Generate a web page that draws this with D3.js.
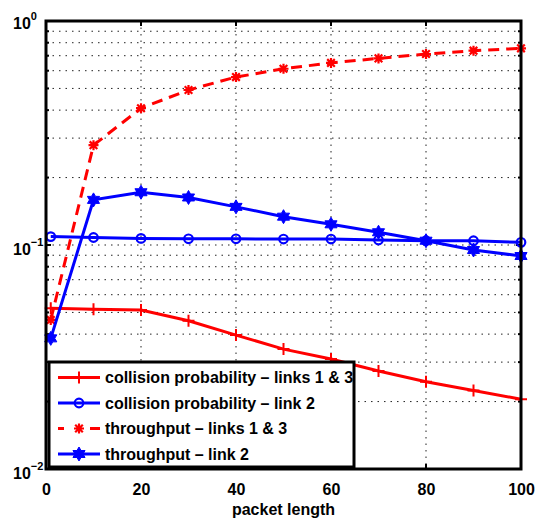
<!DOCTYPE html>
<html>
<head>
<meta charset="utf-8">
<script src="https://cdn.jsdelivr.net/npm/d3@7"></script>
<style>
  html, body { margin: 0; padding: 0; background: #fff; }
  svg { display: block; font-family: "Liberation Sans", Arial, Helvetica, sans-serif; font-weight: bold; }
</style>
</head>
<body>
<svg id="chart" width="535" height="524"></svg>
<script>
// ---------- data ----------
const packetLength = [1, 10, 20, 30, 40, 50, 60, 70, 80, 90, 100];
const collisionLinks13 = [0.0522, 0.0516, 0.0513, 0.0459, 0.0396, 0.0343, 0.0310, 0.0274, 0.0245, 0.0224, 0.0205];
const collisionLink2   = [0.109, 0.108, 0.107, 0.1066, 0.1066, 0.1063, 0.1063, 0.1053, 0.1045, 0.1045, 0.1028];
const throughputLinks13 = [0.0463, 0.279, 0.408, 0.492, 0.562, 0.612, 0.650, 0.681, 0.712, 0.737, 0.755];
const throughputLink2   = [0.0383, 0.159, 0.172, 0.163, 0.148, 0.1338, 0.1237, 0.114, 0.1045, 0.095, 0.0893];
const xTickValues = [0, 20, 40, 60, 80, 100];
const yTickValues = [0.01, 0.1, 1];
const yTickExponents = ["\u22122", "\u22121", "0"];
const xLabel = "packet length";
const seriesNames = [
  "collision probability \u2013 links 1 & 3",
  "collision probability \u2013 link 2",
  "throughput \u2013 links 1 & 3",
  "throughput \u2013 link 2"
];

// ---------- layout ----------
const svg = d3.select("#chart");
const L = 46, R = 521, T = 21, B = 469;
const x = d3.scaleLinear().domain([0, 100]).range([L, R]);
const y = d3.scaleLog().domain([0.01, 1]).range([B, T]);

svg.append("rect").attr("width", 535).attr("height", 524).attr("fill", "#fff");

// ---------- grid ----------
const minorY = [];
[0.01, 0.1].forEach(d => { for (let k = 1; k <= 9; k++) minorY.push(k * d); });
const grid = svg.append("g").attr("stroke", "#222").attr("stroke-width", 1).attr("stroke-dasharray", "1.5,5");
grid.selectAll("line.h").data(minorY.filter(v => v > 0.01)).enter().append("line")
  .attr("x1", L).attr("x2", R).attr("y1", d => y(d)).attr("y2", d => y(d));
grid.selectAll("line.v").data(xTickValues.filter(v => v > 0 && v < 100)).enter().append("line")
  .attr("y1", T).attr("y2", B).attr("x1", d => x(d)).attr("x2", d => x(d));

// ---------- ticks (inward) ----------
const ticks = svg.append("g").attr("stroke", "#000").attr("stroke-width", 2);
xTickValues.forEach(v => {
  ticks.append("line").attr("x1", x(v)).attr("x2", x(v)).attr("y1", B).attr("y2", B - 5);
  ticks.append("line").attr("x1", x(v)).attr("x2", x(v)).attr("y1", T).attr("y2", T + 5);
});
minorY.forEach(v => {
  const len = yTickValues.includes(v) ? 5 : 3;
  ticks.append("line").attr("x1", L).attr("x2", L + len).attr("y1", y(v)).attr("y2", y(v));
  ticks.append("line").attr("x1", R).attr("x2", R - len).attr("y1", y(v)).attr("y2", y(v));
});

// ---------- axes labels ----------
const xAxis = d3.axisBottom(x).tickValues(xTickValues).tickSize(0).tickPadding(0).tickFormat(d3.format("d"));
const gx = svg.append("g").attr("transform", `translate(0,${B})`).call(xAxis);
gx.select(".domain").remove();
gx.selectAll("text").attr("font-size", 16).attr("font-weight", "bold").attr("fill", "#000")
  .attr("dy", null).attr("y", 26);

const gy = svg.append("g");
yTickValues.forEach((v, i) => {
  const t = gy.append("text").attr("x", 13).attr("y", y(v) + (i === 2 ? 8 : 10))
    .attr("font-size", 16).attr("fill", "#000");
  t.append("tspan").text("10");
  t.append("tspan").attr("font-size", 11).attr("dy", -9).text(yTickExponents[i]);
});

svg.append("text").attr("x", (L + R) / 2).attr("y", 515).attr("text-anchor", "middle")
  .attr("font-size", 16).attr("fill", "#000").text(xLabel);

// ---------- markers ----------
function hexagram(r) {
  const pts = [];
  const ri = r / Math.sqrt(3);
  for (let i = 0; i < 12; i++) {
    const a = -Math.PI / 2 + i * Math.PI / 6;
    const rr = i % 2 === 0 ? r : ri;
    pts.push([rr * Math.cos(a), rr * Math.sin(a)]);
  }
  return "M" + pts.map(p => p.join(",")).join("L") + "Z";
}
function drawMarker(g, type, cx, cy, color) {
  if (type === "plus") {
    g.append("path").attr("d", `M${cx - 6},${cy}H${cx + 6}M${cx},${cy - 6}V${cy + 6}`)
      .attr("stroke", color).attr("stroke-width", 2).attr("fill", "none");
  } else if (type === "circle") {
    g.append("circle").attr("cx", cx).attr("cy", cy).attr("r", 4.3)
      .attr("stroke", color).attr("stroke-width", 2.2).attr("fill", "none");
  } else if (type === "asterisk") {
    const s = 5, d = 3.8;
    g.append("path").attr("d",
      `M${cx - s},${cy}H${cx + s}M${cx},${cy - s}V${cy + s}M${cx - d},${cy - d}L${cx + d},${cy + d}M${cx - d},${cy + d}L${cx + d},${cy - d}`)
      .attr("stroke", color).attr("stroke-width", 2.2).attr("fill", "none");
  } else if (type === "hexagram") {
    g.append("path").attr("d", hexagram(7)).attr("transform", `translate(${cx},${cy})`)
      .attr("fill", color).attr("stroke", color).attr("stroke-width", 1);
  }
}

const series = [
  { name: seriesNames[0], values: collisionLinks13, color: "#ff0000", dash: null, marker: "plus" },
  { name: seriesNames[1], values: collisionLink2, color: "#0000ff", dash: null, marker: "circle" },
  { name: seriesNames[2], values: throughputLinks13, color: "#ff0000", dash: "11,7", marker: "asterisk" },
  { name: seriesNames[3], values: throughputLink2, color: "#0000ff", dash: null, marker: "hexagram" }
];

const line = d3.line().x(d => x(d[0])).y(d => y(d[1]));
const plot = svg.append("g");
series.forEach(s => {
  const pts = packetLength.map((p, i) => [p, s.values[i]]);
  plot.append("path").attr("d", line(pts)).attr("fill", "none").attr("stroke", s.color)
    .attr("stroke-width", 3).attr("stroke-dasharray", s.dash);
  const mg = plot.append("g");
  pts.forEach(p => drawMarker(mg, s.marker, x(p[0]), y(p[1]), s.color));
});

// ---------- frame ----------
svg.append("rect").attr("x", L).attr("y", T).attr("width", R - L).attr("height", B - T)
  .attr("fill", "none").attr("stroke", "#000").attr("stroke-width", 3);

// ---------- legend ----------
const lg = svg.append("g");
lg.append("rect").attr("x", 49).attr("y", 362).attr("width", 305).attr("height", 105)
  .attr("fill", "#fff").attr("stroke", "#000").attr("stroke-width", 3);
const rowY = [377.5, 403, 428.5, 454];
series.forEach((s, i) => {
  const cy = rowY[i];
  if (s.dash) {
    lg.append("line").attr("x1", 58).attr("x2", 64).attr("y1", cy).attr("y2", cy)
      .attr("stroke", s.color).attr("stroke-width", 3);
    lg.append("line").attr("x1", 90).attr("x2", 100).attr("y1", cy).attr("y2", cy)
      .attr("stroke", s.color).attr("stroke-width", 3);
  } else {
    lg.append("line").attr("x1", 58).attr("x2", 100).attr("y1", cy).attr("y2", cy)
      .attr("stroke", s.color).attr("stroke-width", 3);
  }
  drawMarker(lg, s.marker, 79, cy, s.color);
  lg.append("text").attr("x", 105).attr("y", cy + 5.5).attr("font-size", 16).attr("fill", "#000").text(s.name);
});
</script>
</body>
</html>
